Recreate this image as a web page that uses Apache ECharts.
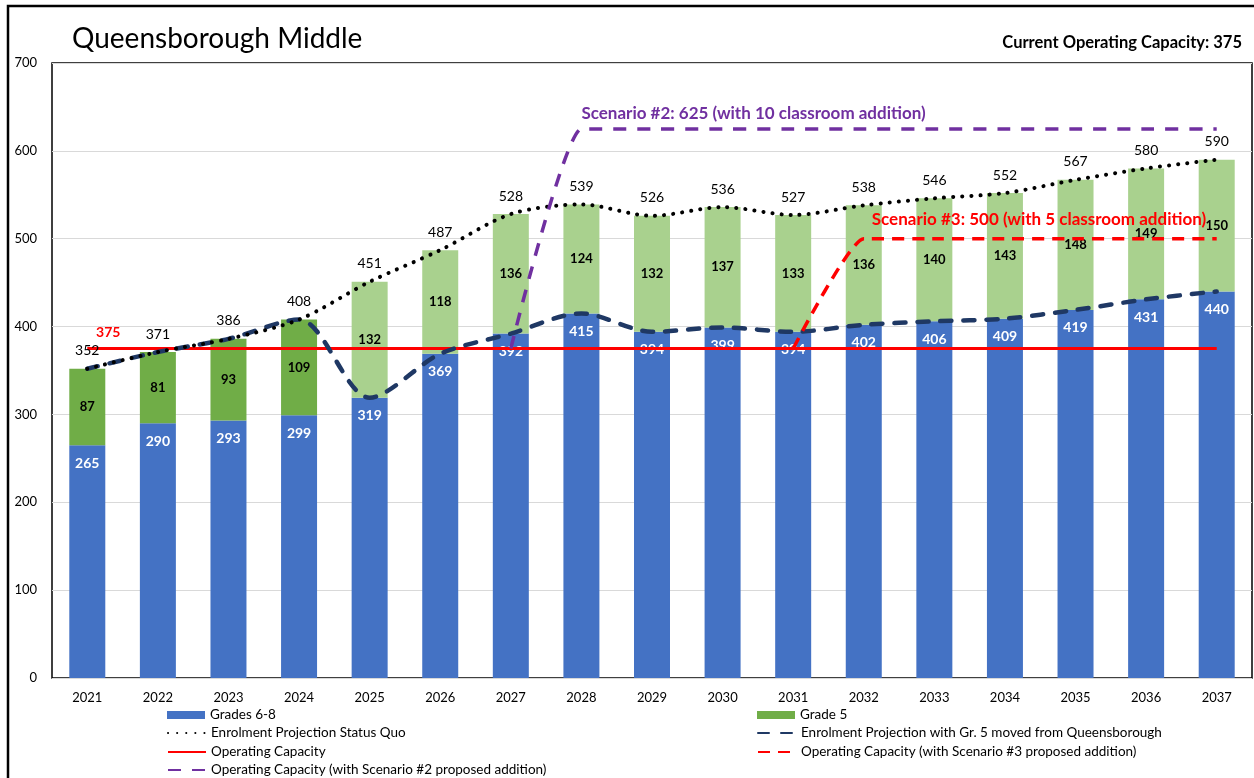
<!DOCTYPE html>
<html>
<head>
<meta charset="utf-8">
<title>Queensborough Middle</title>
<script src="https://cdn.jsdelivr.net/npm/echarts@6/dist/echarts.min.js"></script>
<style>
  html, body { margin: 0; padding: 0; background: #fff; }
  #main { width: 1254px; height: 778px; }
</style>
</head>
<body>
<div id="main"></div>
<script>
// data
const years = ['2021', '2022', '2023', '2024', '2025', '2026', '2027', '2028', '2029',
  '2030', '2031', '2032', '2033', '2034', '2035', '2036', '2037'];
const grades68 = [265, 290, 293, 299, 319, 369, 392, 415, 394, 399, 394, 402, 406, 409, 419, 431, 440];
const grade5 = [87, 81, 93, 109, 132, 118, 136, 124, 132, 137, 133, 136, 140, 143, 148, 149, 150];
const statusQuo = [352, 371, 386, 408, 451, 487, 528, 539, 526, 536, 527, 538, 546, 552, 567, 580, 590];
const gr5Moved = [352, 371, 386, 408, 319, 369, 392, 415, 394, 399, 394, 402, 406, 409, 419, 431, 440];
const capacity = [375, 375, 375, 375, 375, 375, 375, 375, 375, 375, 375, 375, 375, 375, 375, 375, 375];
const scenario2 = ['-', '-', '-', '-', '-', '-', 375, 625, 625, 625, 625, 625, 625, 625, 625, 625, 625];
const scenario3 = ['-', '-', '-', '-', '-', '-', '-', '-', '-', '-', 375, 500, 500, 500, 500, 500, 500];
const currentCapacity = 375;
const scenario2Text = 'Scenario #2: 625 (with 10 classroom addition)';
const scenario3Text = 'Scenario #3: 500 (with 5 classroom addition)';
const firstLightYear = '2025'; // grade 5 bars go light green from here on

const BLUE = '#4472C4', GREEN = '#70AD47', LIGHT_GREEN = '#A9D18E';
const NAVY = '#1F3864', RED = '#FF0000', PURPLE = '#7030A0';
const FONT = 'Lato, "Open Sans", sans-serif';

// put a label on a single point of a line
function labelAt(arr, idx, label) {
  return arr.map((v, i) => i === idx ? { value: v, label: Object.assign({ show: true }, label) } : v);
}

// one legend entry per slot, so the two columns line up like the original
function legendItem(name, left, top, isBar) {
  return {
    left: left, top: top, itemWidth: 38, itemHeight: 8, padding: 0,
    textStyle: { fontSize: 13.5, color: '#000' },
    data: [isBar ? { name: name, icon: 'rect' } : { name: name, itemStyle: { opacity: 0 } }]
  };
}

var chart = echarts.init(document.getElementById('main'));
var lightIdx = years.indexOf(firstLightYear);

// invisible symbols so line labels can be shown
var lineBase = { type: 'line', symbol: 'circle', symbolSize: 0, showSymbol: true, showAllSymbol: true };

var option = {
  animation: false,
  textStyle: { fontFamily: FONT },
  title: [
    { text: 'Queensborough Middle', left: 67, top: 20,
      textStyle: { fontSize: 28, fontWeight: 'normal', color: '#000', fontFamily: FONT } },
    { text: 'Current Operating Capacity: ' + currentCapacity, right: 7, top: 29,
      textStyle: { fontSize: 16.5, fontWeight: 'bold', color: '#000', fontFamily: FONT } }
  ],
  graphic: [
    { type: 'rect', silent: true, shape: { x: 8, y: 6, width: 1300, height: 900 },
      style: { fill: null, stroke: '#000', lineWidth: 2.5 } }
  ],
  legend: [
    legendItem('Grades 6-8', 167, 708, true),
    legendItem('Enrolment Projection Status Quo', 167, 726),
    legendItem('Operating Capacity', 167, 745),
    legendItem('Operating Capacity (with Scenario #2 proposed addition)', 167, 763),
    legendItem('Grade 5', 757, 708, true),
    legendItem('Enrolment Projection with Gr. 5 moved from Queensborough', 757, 726),
    legendItem('Operating Capacity (with Scenario #3 proposed addition)', 757, 745)
  ],
  grid: { left: 52, right: 2, top: 63, bottom: 100, show: true, borderColor: '#000', borderWidth: 1.5 },
  xAxis: {
    type: 'category', data: years,
    axisTick: { show: false },
    axisLine: { show: false },
    axisLabel: { fontSize: 13, color: '#000', margin: 13 }
  },
  yAxis: {
    type: 'value', min: 0, max: 700, interval: 100,
    axisLabel: { fontSize: 13, color: '#000', margin: 15 },
    splitLine: { lineStyle: { color: '#D9D9D9', width: 1 } }
  },
  series: [
    { name: 'Grades 6-8', type: 'bar', stack: 'total', barWidth: 36, data: grades68,
      itemStyle: { color: BLUE },
      label: { show: true, position: 'insideTop', distance: 11, color: '#fff', fontWeight: 'bold', fontSize: 14 } },
    { name: 'Grade 5', type: 'bar', stack: 'total', barWidth: 36,
      data: grade5.map((v, i) => i >= lightIdx ? { value: v, itemStyle: { color: LIGHT_GREEN } } : v),
      itemStyle: { color: GREEN },
      label: { show: true, position: 'inside', color: '#000', fontWeight: 'bold', fontSize: 13 } },
    Object.assign({}, lineBase, { name: 'Operating Capacity',
      data: labelAt(capacity, 0, { position: 'top', distance: 9, offset: [21, 0], color: RED, fontWeight: 'bold', fontSize: 14 }),
      lineStyle: { color: RED, width: 3 }, itemStyle: { color: RED } }),
    Object.assign({}, lineBase, { name: 'Enrolment Projection with Gr. 5 moved from Queensborough',
      smooth: 0.3, data: gr5Moved,
      lineStyle: { color: NAVY, width: 4.5, type: [11, 12], cap: 'round' }, itemStyle: { color: NAVY } }),
    Object.assign({}, lineBase, { name: 'Enrolment Projection Status Quo', smooth: 0.3, data: statusQuo,
      lineStyle: { color: '#000', width: 4, type: [0.1, 9], cap: 'round' }, itemStyle: { color: '#000' },
      label: { show: true, position: 'top', distance: 11, color: '#000', fontSize: 14 } }),
    Object.assign({}, lineBase, { name: 'Operating Capacity (with Scenario #2 proposed addition)', smooth: 0.15,
      data: labelAt(scenario2, 7, { position: 'top', distance: 7, align: 'left', formatter: scenario2Text,
        color: PURPLE, fontWeight: 'bold', fontSize: 17 }),
      lineStyle: { color: PURPLE, width: 3.5, type: [13, 11] }, itemStyle: { color: PURPLE } }),
    Object.assign({}, lineBase, { name: 'Operating Capacity (with Scenario #3 proposed addition)', smooth: 0.15,
      data: labelAt(scenario3, 11, { position: 'top', distance: 11, align: 'left', offset: [8, 0], formatter: scenario3Text,
        color: RED, fontWeight: 'bold', fontSize: 17 }),
      lineStyle: { color: RED, width: 3.5, type: [12, 8] }, itemStyle: { color: RED } })
  ]
};

chart.setOption(option);
</script>
</body>
</html>
